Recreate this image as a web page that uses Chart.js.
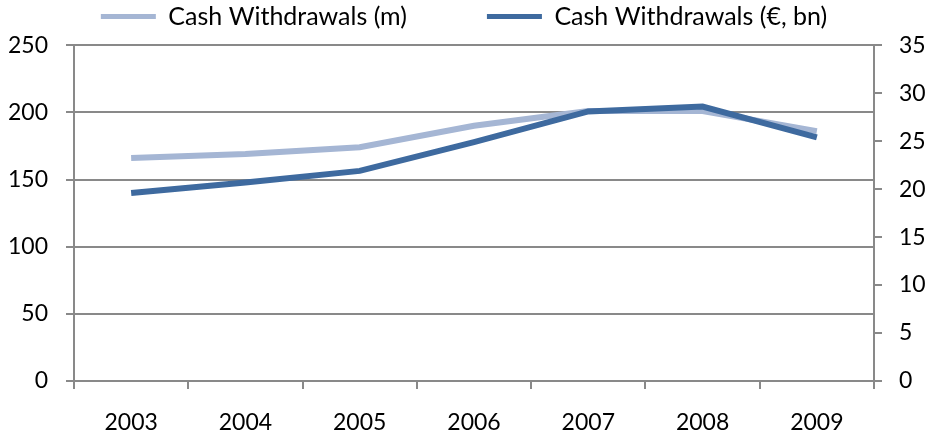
<!DOCTYPE html>
<html>
<head>
<meta charset="utf-8">
<script src="https://cdn.jsdelivr.net/npm/chart.js@4.4.0/dist/chart.umd.min.js"></script>
<style>
  html, body { margin: 0; padding: 0; background: #fff; }
  #wrap { width: 928px; height: 434px; }
</style>
</head>
<body>
<div id="wrap"><canvas id="grafica"></canvas></div>
<script>
// datos
const años = ['2003', '2004', '2005', '2006', '2007', '2008', '2009'];
const retirosMillones = [166, 169, 174, 190, 201, 201, 186];
const retirosEurosBn = [19.6, 20.7, 21.9, 24.9, 28.1, 28.6, 25.4];
const ticksIzq = [0, 50, 100, 150, 200, 250];
const ticksDer = [0, 5, 10, 15, 20, 25, 30, 35];

const gris = '#898989';
const fuenteEjes = { family: 'Lato, "Open Sans", sans-serif', size: 23 };
const fuenteLeyenda = { family: 'Lato, "Open Sans", sans-serif', size: 25 };

Chart.defaults.font = fuenteEjes;
Chart.defaults.color = '#000';

const ctx = document.getElementById('grafica').getContext('2d');
const grafica = new Chart(ctx, {
    type: 'line',
    data: {
        labels: años,
        datasets: [{
            label: 'Cash Withdrawals (m)',
            data: retirosMillones,
            borderColor: '#a5b6d4',
            backgroundColor: '#a5b6d4',
            borderWidth: 6,
            pointRadius: 0,
            tension: 0,
            yAxisID: 'y',
            order: 2
        }, {
            label: 'Cash Withdrawals (€, bn)',
            data: retirosEurosBn,
            borderColor: '#3e6a9f',
            backgroundColor: '#3e6a9f',
            borderWidth: 6,
            pointRadius: 0,
            tension: 0,
            yAxisID: 'y1',
            order: 1
        }]
    },
    options: {
        responsive: true,
        maintainAspectRatio: false,
        animation: false,
        // el padding negativo sube la leyenda (su padding grande separa los dos items)
        layout: { padding: { top: -76, right: 0, left: 0, bottom: 0 } },
        plugins: {
            tooltip: { enabled: false },
            // titulo vacio solo como espacio entre leyenda y grafica
            title: { display: true, text: '', font: { size: 1 }, padding: { top: 0, bottom: 5 } },
            legend: {
                position: 'top',
                weight: 3000,
                labels: {
                    boxWidth: 55,
                    boxHeight: 5,
                    padding: 80,
                    font: fuenteLeyenda,
                    generateLabels: function(chart) {
                        return chart.data.datasets.map((ds, i) => ({
                            text: ds.label,
                            fillStyle: ds.borderColor,
                            strokeStyle: ds.borderColor,
                            lineWidth: 0,
                            datasetIndex: i
                        }));
                    }
                }
            }
        },
        scales: {
            x: {
                offset: true,
                grid: {
                    offset: true,
                    drawOnChartArea: false,
                    color: gris,
                    lineWidth: 2,
                    tickLength: 8
                },
                border: { color: gris, width: 2 },
                ticks: { padding: 20, font: fuenteEjes, maxRotation: 0 },
                afterFit: function(scale) { scale.height = 53; }
            },
            y: {
                position: 'left',
                min: 0,
                max: 250,
                afterBuildTicks: function(scale) { scale.ticks = ticksIzq.map(v => ({ value: v })); },
                grid: { color: gris, lineWidth: 2, tickLength: 8 },
                border: { color: gris, width: 2 },
                ticks: { padding: 18, font: fuenteEjes },
                afterFit: function(scale) { scale.width = 74; }
            },
            y1: {
                position: 'right',
                min: 0,
                max: 35,
                afterBuildTicks: function(scale) { scale.ticks = ticksDer.map(v => ({ value: v })); },
                grid: { drawOnChartArea: false, color: gris, lineWidth: 2, tickLength: 8 },
                border: { color: gris, width: 2 },
                ticks: { padding: 17, font: fuenteEjes },
                afterFit: function(scale) { scale.width = 54; }
            }
        }
    }
});
</script>
</body>
</html>
